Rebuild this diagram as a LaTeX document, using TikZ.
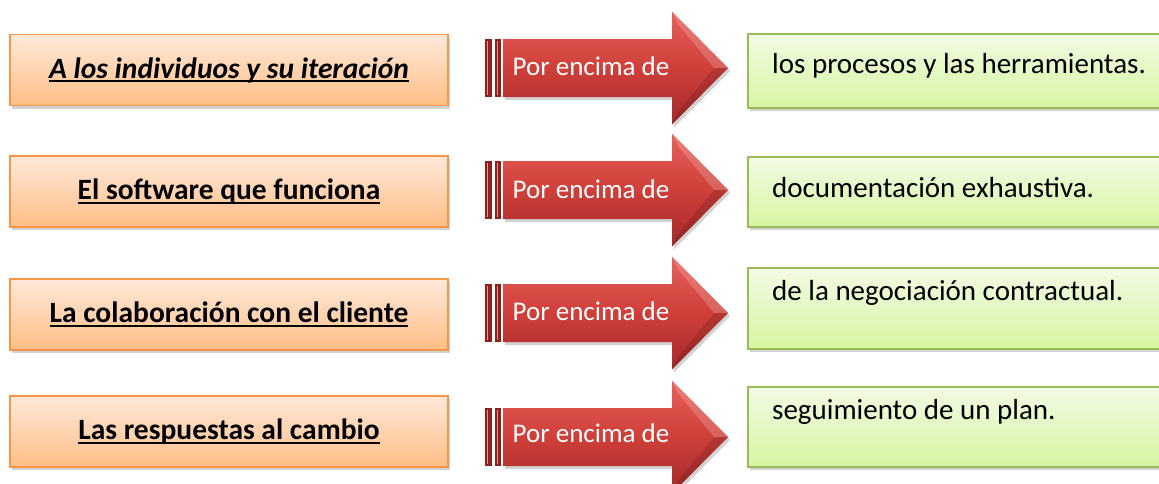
\documentclass[tikz,border=0pt]{standalone}
\usepackage{fontspec}
\setmainfont{Carlito}
\usetikzlibrary{shadows}
\definecolor{orbord}{HTML}{F79646}
\definecolor{ortop}{HTML}{FFE9DA}
\definecolor{orbot}{HTML}{FFBE86}
\definecolor{grbord}{HTML}{9BBB59}
\definecolor{grtop}{HTML}{F2FBE4}
\definecolor{grbot}{HTML}{D6F5A2}
\definecolor{artop}{HTML}{E8605A}
\definecolor{armid}{HTML}{CF3F3A}
\definecolor{arbot}{HTML}{A5292A}
\definecolor{bardark}{HTML}{8E1F1C}
\newcommand\myul[1]{\setbox0\hbox{#1}\rlap{\rule[-4pt]{\wd0}{2pt}}\box0}
\tikzset{
  orbox/.style={draw=orbord, line width=1.3pt, top color=ortop, bottom color=orbot,
    drop shadow={shadow xshift=2pt, shadow yshift=-3pt, opacity=0.35},
    minimum width=438pt, minimum height=71pt, inner sep=0pt,
    font=\fontsize{29.5}{34}\selectfont\bfseries},
  grbox/.style={draw=grbord, line width=1.3pt, top color=grtop, bottom color=grbot,
    drop shadow={shadow xshift=2pt, shadow yshift=-3pt, opacity=0.35}},
  grtext/.style={anchor=west, inner sep=0pt, font=\fontsize{29}{34}\selectfont},
  arfill/.style={top color=artop, bottom color=arbot, middle color=armid,
    drop shadow={shadow xshift=2pt, shadow yshift=-3pt, opacity=0.35}},
  barfill/.style={fill=bardark},
  artext/.style={text=white, inner sep=0pt, font=\fontsize{27}{31}\selectfont},
}
\begin{document}
\begin{tikzpicture}[x=1pt,y=-1pt]
\clip (0,0) rectangle (1159,483);
\fill[white] (0,0) rectangle (1159,483);
% orange boxes
\node[orbox] (o1) at (229,70) {\myul{\itshape A los individuos y su iteración}};
\node[orbox] (o2) at (229,191.5) {\myul{El software que funciona}};
\node[orbox] (o3) at (229,314.5) {\myul{La colaboración con el cliente}};
\node[orbox] (o4) at (229,431.5) {\myul{Las respuestas al cambio}};
% green boxes
\foreach \n/\t/\b in {1/34/108, 2/157/227, 3/268/349, 4/387/467}{
  \path[grbox] (748,\t) rectangle (1180,\b);
}
\node[grtext] (g1) at (772,66) {los procesos y las herramientas.};
\node[grtext] (g2) at (772,188) {documentación exhaustiva.};
\node[grtext] (g3) at (772,293) {de la negociación contractual.};
\node[grtext] (g4) at (772,412) {seguimiento de un plan.};
% arrows
\foreach \n/\c in {1/68, 2/190, 3/313, 4/437}{
  \fill[barfill] (485,\c-29) rectangle (492,\c+29);
  \fill[barfill] (495,\c-29) rectangle (501,\c+29);
  \fill[artop!70!white] (486.5,\c-27) rectangle (488,\c+27);
  \fill[artop!70!white] (496.5,\c-27) rectangle (498,\c+27);
  \path[arfill] (503,\c-29) -- (672,\c-29) -- (672,\c-56.5) -- (728,\c) --
    (672,\c+56.5) -- (672,\c+29) -- (503,\c+29) -- cycle;
  \fill[white, opacity=0.18] (672,\c-56.5) -- (728,\c) -- (714,\c) -- (678,\c-44) -- cycle;
  \fill[black, opacity=0.12] (672,\c+56.5) -- (728,\c) -- (714,\c) -- (678,\c+44) -- cycle;
}
\node[artext] (a1) at (591,66) {Por encima de};
\node[artext] (a2) at (591,189) {Por encima de};
\node[artext] (a3) at (591,311) {Por encima de};
\node[artext] (a4) at (591,433) {Por encima de};
\end{tikzpicture}
\end{document}
